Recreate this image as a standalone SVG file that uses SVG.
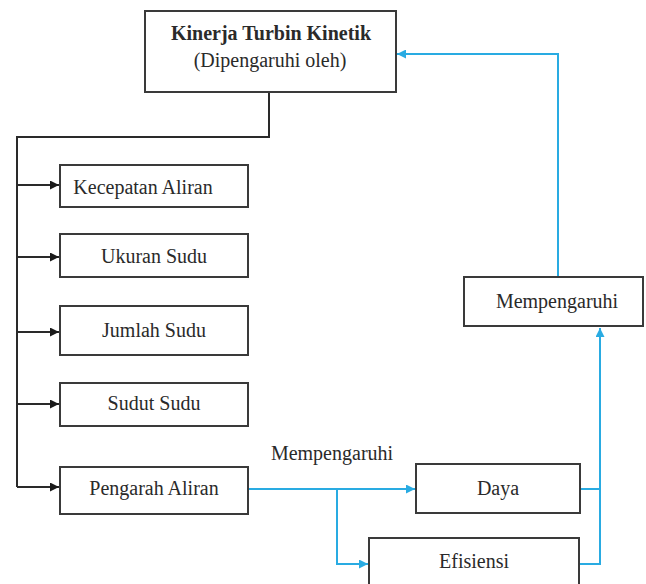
<svg xmlns="http://www.w3.org/2000/svg" width="646" height="584" viewBox="0 0 646 584">
<defs>
<style>
.box{fill:#fff;stroke:#3a3a3a;stroke-width:2}
.t{font-size:20px;fill:#2a2a2a;text-anchor:middle}
.b{font-weight:bold}
.k{fill:none;stroke:#2a2a2a;stroke-width:2}
.c{fill:none;stroke:#29abe2;stroke-width:2}
</style>
<marker id="ak" viewBox="0 0 10 10" refX="10" refY="5" markerWidth="10" markerHeight="9" markerUnits="userSpaceOnUse" orient="auto"><path d="M0,0L10,5L0,10z" fill="#1a1a1a"/></marker>
<marker id="ac" viewBox="0 0 10 10" refX="10" refY="5" markerWidth="10" markerHeight="9" markerUnits="userSpaceOnUse" orient="auto"><path d="M0,0L10,5L0,10z" fill="#29abe2"/></marker>
</defs>
<rect width="646" height="584" fill="#fff"/>
<g id="connectors">
<path class="k" d="M269,92V137H17V487"/>
<path class="k" d="M17,185H59" marker-end="url(#ak)"/>
<path class="k" d="M17,257H59" marker-end="url(#ak)"/>
<path class="k" d="M17,332H59" marker-end="url(#ak)"/>
<path class="k" d="M17,404H59" marker-end="url(#ak)"/>
<path class="k" d="M17,487H59" marker-end="url(#ak)"/>
<path class="c" d="M248,489H415" marker-end="url(#ac)"/>
<path class="c" d="M337,489V564H368" marker-end="url(#ac)"/>
<path class="c" d="M580,489H600"/>
<path class="c" d="M579,564H600V328" marker-end="url(#ac)"/>
<path class="c" d="M558,277V54H397" marker-end="url(#ac)"/>
</g>
<g font-family="'Liberation Serif', 'DejaVu Serif', serif">
<g id="kinerja"><rect class="box" x="145" y="11" width="251" height="81"/>
<text class="t b" x="271" y="40">Kinerja Turbin Kinetik</text>
<text class="t" x="270" y="67">(Dipengaruhi oleh)</text></g>
<g id="kecepatan"><rect class="box" x="60" y="165" width="188" height="42"/><text class="t" x="143" y="194">Kecepatan Aliran</text></g>
<g id="ukuran"><rect class="box" x="60" y="234" width="188" height="43"/><text class="t" x="154" y="263">Ukuran Sudu</text></g>
<g id="jumlah"><rect class="box" x="60" y="306" width="188" height="49"/><text class="t" x="154" y="337">Jumlah Sudu</text></g>
<g id="sudut"><rect class="box" x="60" y="383" width="188" height="43"/><text class="t" x="154" y="410">Sudut Sudu</text></g>
<g id="pengarah"><rect class="box" x="60" y="467" width="188" height="47"/><text class="t" x="154" y="495">Pengarah Aliran</text></g>
<g id="label-mempengaruhi"><text class="t" x="332" y="460">Mempengaruhi</text></g>
<g id="daya"><rect class="box" x="416" y="464" width="164" height="49"/><text class="t" x="498" y="495">Daya</text></g>
<g id="efisiensi"><rect class="box" x="369" y="538" width="210" height="56"/><text class="t" x="474" y="568">Efisiensi</text></g>
<g id="mempengaruhi"><rect class="box" x="464" y="277" width="179" height="49"/><text class="t" x="557" y="308">Mempengaruhi</text></g>
</g>
</svg>
